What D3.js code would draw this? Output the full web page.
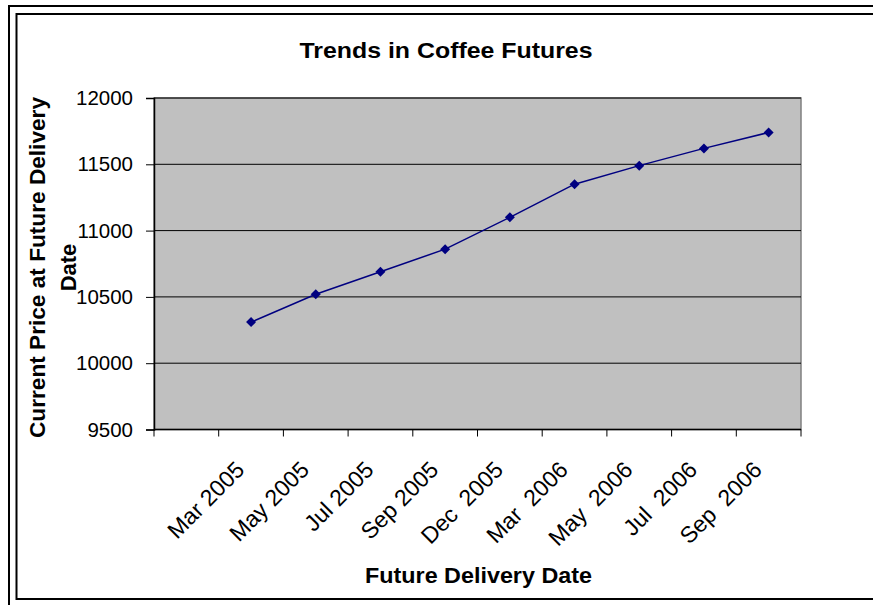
<!DOCTYPE html>
<html>
<head>
<meta charset="utf-8">
<script src="https://cdn.jsdelivr.net/npm/d3@7"></script>
<style>
  body { margin: 0; background: #fff; }
  svg text { font-family: "Liberation Sans", Arial, sans-serif; fill: #000; }
</style>
</head>
<body>
<div id="chart"></div>
<script>
// chart data (first category slot is empty, as in the original sheet)
const categories = ["", "Mar 2005", "May 2005", "Jul 2005", "Sep 2005", "Dec  2005",
    "Mar  2006", "May  2006", "Jul  2006", "Sep  2006"];
const prices = [null, 10310, 10520, 10690, 10860, 11100, 11350, 11490, 11620, 11740];
const yTicks = [9500, 10000, 10500, 11000, 11500, 12000];

const width = 873, height = 605;
const plot = { left: 154, right: 801, top: 98, bottom: 429.5 };

let svg = d3.select("#chart")
    .append("svg")
    .attr("width", width)
    .attr("height", height);

// double frame around the chart (cut off on the right)
svg.append("rect")
    .attr("x", 9).attr("y", 6)
    .attr("width", 1000).attr("height", 700)
    .attr("fill", "none").attr("stroke", "#000").attr("stroke-width", 2);
svg.append("rect")
    .attr("x", 16.5).attr("y", 14)
    .attr("width", 1000).attr("height", 585)
    .attr("fill", "none").attr("stroke", "#000").attr("stroke-width", 2);

let x = d3.scaleBand()
    .domain(categories.map((d, i) => i))
    .range([plot.left, plot.right]);

let y = d3.scaleLinear()
    .domain([9500, 12000])
    .range([plot.bottom, plot.top]);

// plot background
svg.append("rect")
    .attr("x", plot.left).attr("y", plot.top)
    .attr("width", plot.right - plot.left)
    .attr("height", plot.bottom - plot.top)
    .attr("fill", "#c0c0c0")
    .attr("stroke", "#808080")
    .attr("stroke-width", 1.5);

// gridlines
svg.append("g")
    .selectAll("line")
    .data(yTicks.slice(1))
    .enter()
    .append("line")
    .attr("x1", plot.left).attr("x2", plot.right)
    .attr("y1", d => y(d)).attr("y2", d => y(d))
    .attr("stroke", "#000").attr("stroke-width", 1);

// y axis
let yAxis = svg.append("g")
    .attr("transform", `translate(${plot.left}, 0)`)
    .call(d3.axisLeft(y).tickValues(yTicks).tickSize(8).tickPadding(13).tickFormat(d3.format("d")));
yAxis.select(".domain").attr("stroke", "#000").attr("stroke-width", 1.5);
yAxis.selectAll("text").style("font-size", "20.5px");

// x axis: ticks on the category boundaries
let boundaries = d3.range(categories.length + 1).map(i => plot.left + i * x.bandwidth());
let xAxis = svg.append("g");
xAxis.append("line")
    .attr("x1", plot.left).attr("x2", plot.right)
    .attr("y1", plot.bottom).attr("y2", plot.bottom)
    .attr("stroke", "#000").attr("stroke-width", 1.5);
xAxis.selectAll(".tick")
    .data(boundaries)
    .enter()
    .append("line")
    .attr("x1", d => d).attr("x2", d => d)
    .attr("y1", plot.bottom).attr("y2", plot.bottom + 7)
    .attr("stroke", "#000").attr("stroke-width", 1);

xAxis.selectAll(".lbl")
    .data(categories)
    .enter()
    .append("text")
    .attr("transform", (d, i) => `translate(${x(i) + x.bandwidth() / 2 - 11}, ${plot.bottom + 36}) rotate(-45)`)
    .attr("text-anchor", "end")
    .attr("dy", "0.35em")
    .style("font-size", "23px")
    .style("white-space", "pre")
    .text(d => d);

// line + diamond markers
let pts = prices.map((v, i) => ({ i: i, v: v })).filter(d => d.v !== null);

let line = d3.line()
    .x(d => x(d.i) + x.bandwidth() / 2)
    .y(d => y(d.v));

svg.append("path")
    .datum(pts)
    .attr("d", line)
    .attr("fill", "none")
    .attr("stroke", "#000080")
    .attr("stroke-width", 1.5);

svg.append("g")
    .selectAll("path")
    .data(pts)
    .enter()
    .append("path")
    .attr("d", d3.symbol(d3.symbolSquare, 50))
    .attr("transform", d => `translate(${x(d.i) + x.bandwidth() / 2}, ${y(d.v)}) rotate(45)`)
    .attr("fill", "#000080");

// titles
svg.append("text")
    .attr("x", 446).attr("y", 58)
    .attr("text-anchor", "middle")
    .attr("textLength", 293)
    .attr("lengthAdjust", "spacingAndGlyphs")
    .style("font-size", "22.5px")
    .style("font-weight", "bold")
    .text("Trends in Coffee Futures");

svg.append("text")
    .attr("x", 478.5).attr("y", 582.5)
    .attr("text-anchor", "middle")
    .attr("textLength", 227)
    .attr("lengthAdjust", "spacingAndGlyphs")
    .style("font-size", "22.5px")
    .style("font-weight", "bold")
    .text("Future Delivery Date");

svg.append("text")
    .attr("transform", "translate(44.5, 267.5) rotate(-90)")
    .attr("text-anchor", "middle")
    .attr("textLength", 341)
    .attr("lengthAdjust", "spacingAndGlyphs")
    .style("font-size", "22px")
    .style("font-weight", "bold")
    .text("Current Price at Future Delivery");

svg.append("text")
    .attr("transform", "translate(75.5, 267.5) rotate(-90)")
    .attr("text-anchor", "middle")
    .style("font-size", "22px")
    .style("font-weight", "bold")
    .text("Date");
</script>
</body>
</html>
